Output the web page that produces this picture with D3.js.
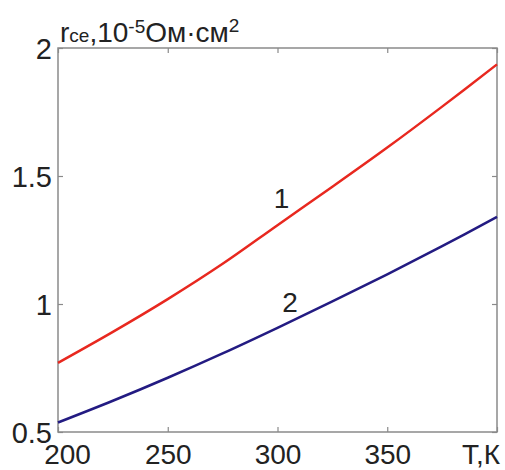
<!DOCTYPE html>
<html>
<head>
<meta charset="utf-8">
<script src="https://cdn.jsdelivr.net/npm/d3@7"></script>
<style>
  body { margin: 0; background: #fff; }
  svg text { font-family: "Liberation Sans", Arial, sans-serif; fill: #222; }
</style>
</head>
<body>
<svg id="chart"></svg>
<script>
// values
var temps = [200, 225, 250, 275, 300, 325, 350, 375, 400];
var curve1 = [0.770, 0.891, 1.019, 1.157, 1.308, 1.458, 1.611, 1.771, 1.936];
var curve2 = [0.537, 0.622, 0.712, 0.807, 0.907, 1.010, 1.116, 1.226, 1.340];
var xTicks = [200, 250, 300, 350, 400];
var yTicks = [0.5, 1, 1.5, 2];
var yTickLabels = ["0.5", "1", "1.5", "2"];

var margin = {top: 48, right: 8, bottom: 38, left: 58},
    W = 505, H = 470,
    width = W - margin.left - margin.right,
    height = H - margin.top - margin.bottom;

var svg = d3.select("#chart")
    .attr("width", W)
    .attr("height", H)
  .append("g")
    .attr("transform", "translate(" + margin.left + "," + margin.top + ")");

var x = d3.scaleLinear().domain([200, 400]).range([0, width]);
var y = d3.scaleLinear().domain([0.5, 2]).range([height, 0]);

var grey = "#8a8a8a";

// frame
svg.append("rect")
    .attr("width", width)
    .attr("height", height)
    .attr("fill", "none")
    .attr("stroke", grey)
    .attr("stroke-width", 1.5);

function styleAxis(g) {
  g.select(".domain").remove();
  g.selectAll(".tick line").attr("stroke", grey).attr("stroke-width", 1.2);
  g.selectAll(".tick text").style("font-size", "29px").attr("fill", "#222");
}

// bottom axis, ticks inward
var bottom = svg.append("g")
    .attr("transform", "translate(0," + height + ")")
    .call(d3.axisBottom(x).tickValues(xTicks).tickSize(-5)
      .tickFormat(d => d === 400 ? "" : d))
    .call(styleAxis);
bottom.selectAll(".tick text").attr("y", 32).attr("dy", null).style("font-size", "28px");
bottom.selectAll(".tick text").filter(d => d === 200).attr("dx", 9);

// top mirror ticks
svg.append("g")
    .call(d3.axisTop(x).tickValues(xTicks).tickSize(-5).tickFormat(""))
    .call(styleAxis);

// left axis
var left = svg.append("g")
    .call(d3.axisLeft(y).tickValues(yTicks).tickSize(-5).tickPadding(6)
      .tickFormat((d, i) => yTickLabels[i]))
    .call(styleAxis);
left.selectAll(".tick text").attr("dy", "0.36em");

// right mirror ticks
svg.append("g")
    .attr("transform", "translate(" + width + ",0)")
    .call(d3.axisRight(y).tickValues(yTicks).tickSize(-5).tickFormat(""))
    .call(styleAxis);

// curves
var line = d3.line()
    .x(d => x(d[0]))
    .y(d => y(d[1]))
    .curve(d3.curveCatmullRom);

svg.append("path")
    .datum(temps.map((t, i) => [t, curve1[i]]))
    .attr("d", line)
    .attr("fill", "none")
    .attr("stroke", "#e8281f")
    .attr("stroke-width", 2.5);

svg.append("path")
    .datum(temps.map((t, i) => [t, curve2[i]]))
    .attr("d", line)
    .attr("fill", "none")
    .attr("stroke", "#231b82")
    .attr("stroke-width", 2.5);

// curve labels
svg.append("text")
    .attr("x", x(300) + 4)
    .attr("y", y(1.5) + 32)
    .attr("text-anchor", "middle")
    .style("font-size", "28px")
    .text("1");
svg.append("text")
    .attr("x", x(300) + 12.5)
    .attr("y", y(1) + 8)
    .attr("text-anchor", "middle")
    .style("font-size", "28px")
    .text("2");

// x axis title
svg.append("text")
    .attr("x", width + 3)
    .attr("y", height + 32)
    .attr("text-anchor", "end")
    .style("font-size", "28px")
    .text("T,К");

// y axis title
var title = svg.append("text")
    .attr("x", 2)
    .attr("y", -6)
    .style("font-size", "28px");
title.append("tspan").text("r");
title.append("tspan").style("font-size", "19px").text("ce");
title.append("tspan").text(",10");
title.append("tspan").style("font-size", "19px").attr("dy", -9).text("-5");
title.append("tspan").attr("dy", 9).text("Ом·см");
title.append("tspan").style("font-size", "19px").attr("dy", -10).text("2");
</script>
</body>
</html>
